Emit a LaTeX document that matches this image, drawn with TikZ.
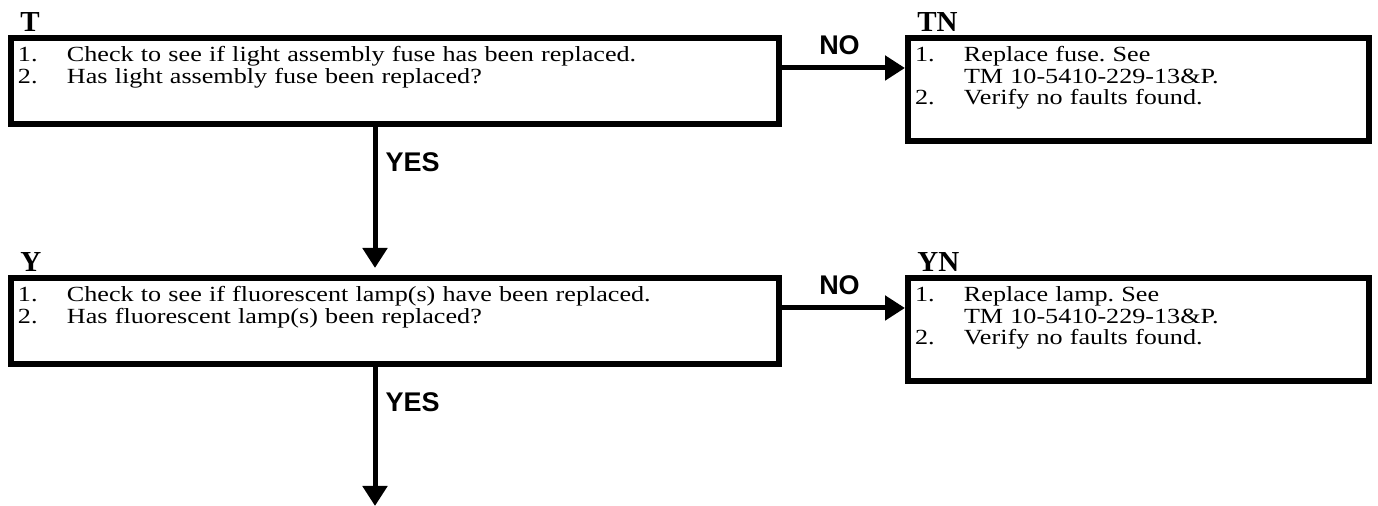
\documentclass[tikz,border=0pt]{standalone}
\usepackage{fontspec}
\usetikzlibrary{arrows.meta,positioning}
\newfontfamily\bodyfont[FakeStretch=1.21]{Liberation Serif}
\newfontfamily\tagfont{Liberation Serif}
\newfontfamily\answerfont{Liberation Sans}
\newcommand{\stepno}[1]{\makebox[24.5pt][l]{#1}}
\frenchspacing

\begin{document}
\begin{tikzpicture}[
    x=0.5pt, y=-0.5pt,
    box/.style={draw, line width=3pt, anchor=north west, inner xsep=3.5pt, inner ysep=0pt, align=left, text height=12pt, font=\bodyfont\fontsize{10.8}{10.6}\selectfont},
    wide/.style={box, text width=377pt, text depth=31pt},
    narrow/.style={box, text width=223.5pt, text depth=39.5pt},
    tag/.style={inner sep=0pt, anchor=base west, font=\tagfont\bfseries\fontsize{14.5}{14.5}\selectfont},
    arrow/.style={-{Triangle[length=10pt, width=12pt]}, line width=2.5pt},
    answer/.style={inner sep=0pt, font=\answerfont\bfseries\fontsize{13.5}{13.5}\selectfont}
]
\useasboundingbox (0,0) rectangle (1378,506);
\node[wide] (T) at (8,35) {\stepno{1.}Check to see if light assembly fuse has been replaced.\\\stepno{2.}Has light assembly fuse been replaced?};
\node[narrow, right=61.5pt of T.north east, anchor=north west] (TN) {\stepno{1.}Replace fuse. See\\\stepno{}TM 10-5410-229-13\&P.\\\stepno{2.}Verify no faults found.};
\node[wide, below=74pt of T.south west, anchor=north west] (Y) {\stepno{1.}Check to see if fluorescent lamp(s) have been replaced.\\\stepno{2.}Has fluorescent lamp(s) been replaced?};
\node[narrow, right=61.5pt of Y.north east, anchor=north west] (YN) {\stepno{1.}Replace lamp. See\\\stepno{}TM 10-5410-229-13\&P.\\\stepno{2.}Verify no faults found.};
% step letters
\node[tag] (Tlab) at ([xshift=6pt,yshift=1.5pt]T.north west) {T};
\node[tag] (TNlab) at ([xshift=6pt,yshift=1.5pt]TN.north west) {TN};
\node[tag] (Ylab) at ([xshift=6pt,yshift=1.5pt]Y.north west) {Y};
\node[tag] (YNlab) at ([xshift=6pt,yshift=1.5pt]YN.north west) {YN};
\coordinate (out) at (375,506);
\draw[arrow] ([yshift=-16.5pt]T.north east) -- node[answer, above=5.5pt, xshift=-2pt] (noT) {NO} ([yshift=-16.5pt]TN.north west);
\draw[arrow] ([yshift=-16.5pt]Y.north east) -- node[answer, above=5.5pt, xshift=-2pt] (noY) {NO} ([yshift=-16.5pt]YN.north west);
\draw[arrow] ([xshift=183.5pt]T.south west) -- node[answer, pos=0.25, right=4pt] (yesT) {YES} ([xshift=183.5pt, yshift=3.5pt]Y.north west);
\draw[arrow] ([xshift=183.5pt]Y.south west) -- node[answer, pos=0.25, right=4pt] (yesY) {YES} (out);
\end{tikzpicture}
\end{document}
